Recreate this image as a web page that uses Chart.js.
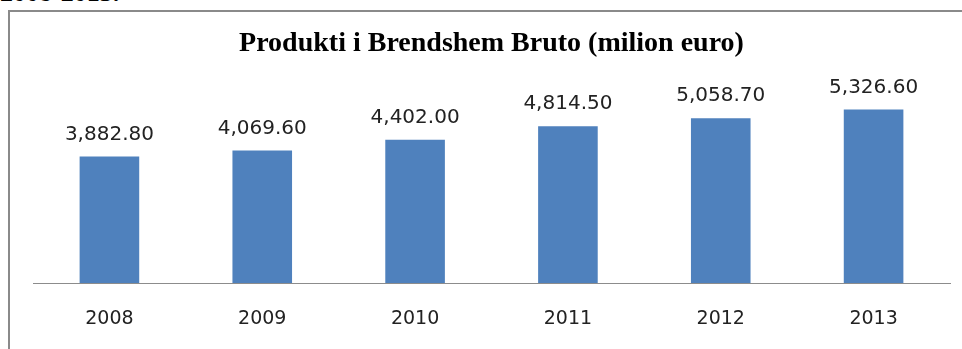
<!DOCTYPE html>
<html>
<head>
<meta charset="utf-8">
<script src="https://cdn.jsdelivr.net/npm/chart.js@4/dist/chart.umd.min.js"></script>
<style>
  html, body { margin: 0; padding: 0; background: #fff; overflow: hidden; }
  #wrap { position: relative; width: 962px; height: 349px; }
  #caption {
    position: absolute; left: 0; top: -20px;
    font: bold 26px/26px "Liberation Serif", serif; color: #000;
    white-space: nowrap;
  }
  #frame {
    position: absolute; left: 8px; top: 10px; width: 1000px; height: 400px;
    border: 2px solid #8a8a8a; box-sizing: border-box;
  }
  #gdp-chart { position: absolute; left: 0; top: 0; }
</style>
</head>
<body>
<div id="wrap">
  <div id="caption">2008-2013.</div>
  <div id="frame"></div>
  <canvas id="gdp-chart" width="962" height="349"></canvas>
</div>
<script>
  const years = ["2008", "2009", "2010", "2011", "2012", "2013"];
  const gdp = [3882.8, 4069.6, 4402.0, 4814.5, 5058.7, 5326.6];
  const yMin = 0;
  const yMax = 6000;

  const fmt = (v) =>
    v.toLocaleString("en-US", { minimumFractionDigits: 2, maximumFractionDigits: 2 });

  // value labels above each bar
  const valueLabels = {
    id: "valueLabels",
    afterDatasetsDraw(chart) {
      const ctx = chart.ctx;
      const meta = chart.getDatasetMeta(0);
      ctx.save();
      ctx.font = '20px "DejaVu Sans", sans-serif';
      ctx.fillStyle = "#222";
      ctx.textAlign = "center";
      ctx.textBaseline = "bottom";
      meta.data.forEach((bar, i) => {
        ctx.fillText(fmt(gdp[i]), bar.x, bar.y - 12);
      });
      ctx.restore();
    },
  };

  new Chart(document.getElementById("gdp-chart"), {
    type: "bar",
    data: {
      labels: years,
      datasets: [
        {
          data: gdp,
          backgroundColor: "#4F81BD",
          borderWidth: 0,
          categoryPercentage: 1,
          barPercentage: 0.39,
        },
      ],
    },
    options: {
      responsive: false,
      animation: false,
      layout: { padding: { left: 33, right: 12, top: 0, bottom: 0 } },
      scales: {
        x: {
          grid: { display: false, drawTicks: false },
          border: { display: true, color: "#8c8c8c", width: 1 },
          ticks: {
            padding: 25,
            color: "#222",
            font: { family: "DejaVu Sans", size: 19 },
          },
          afterFit(scale) {
            scale.height = 66;
          },
        },
        y: { display: false, min: yMin, max: yMax },
      },
      plugins: {
        legend: { display: false },
        tooltip: { enabled: false },
        title: {
          display: true,
          text: "Produkti i Brendshem Bruto (milion euro)",
          color: "#000",
          padding: { top: 27, bottom: 27 },
          font: { family: "Liberation Serif", size: 28, weight: "bold", lineHeight: 1.2 },
        },
      },
    },
    plugins: [valueLabels],
  });
</script>
</body>
</html>
